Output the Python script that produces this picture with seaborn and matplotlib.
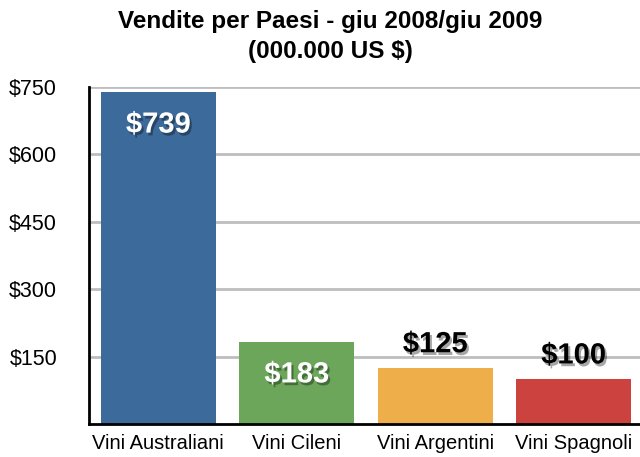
import matplotlib
matplotlib.use("Agg")
import matplotlib.pyplot as plt
import matplotlib.patheffects as pe
import seaborn as sns
import pandas as pd

categories = ["Vini Australiani", "Vini Cileni", "Vini Argentini", "Vini Spagnoli"]
values = [739, 183, 125, 100]
value_labels = ["$739", "$183", "$125", "$100"]
colors = ["#3C6A9B", "#6BA65B", "#EEAF4B", "#CB423F"]
yticks = [150, 300, 450, 600, 750]
ytick_labels = ["$150", "$300", "$450", "$600", "$750"]
title = "Vendite per Paesi - giu 2008/giu 2009\n(000.000 US $)"

sns.set_theme(style="white")
plt.rcParams["font.family"] = ["Liberation Sans", "DejaVu Sans"]
plt.rcParams["text.color"] = "black"
plt.rcParams["xtick.color"] = "black"
plt.rcParams["ytick.color"] = "black"
plt.rcParams["axes.labelcolor"] = "black"

df = pd.DataFrame({"cat": categories, "val": values})

fig = plt.figure(figsize=(6.4, 4.57), dpi=100)
ax = fig.add_axes([89/640, 33/457, 1 - 89/640, (424-87)/457])

ax.set_axisbelow(True)
for t in yticks:
    ax.axhline(t, color="#BDBDBD", lw=2, zorder=0)

sns.barplot(data=df, x="cat", y="val", hue="cat", palette=colors, legend=False,
            width=0.83, saturation=1, linewidth=0, ax=ax, zorder=2)

ax.set_xlim(-0.5, 3.48)
ax.set_ylim(0, 750)
ax.set_yticks(yticks)
ax.set_yticklabels(ytick_labels, fontsize=15.5, color="black")
ax.tick_params(axis="y", direction="in", length=5, width=2, pad=23, color="black", labelcolor="black")
ax.tick_params(axis="x", length=0, pad=7, labelsize=14.5, labelcolor="black")
ax.set_xlabel("")
ax.set_ylabel("")
for s in ["top", "right"]:
    ax.spines[s].set_visible(False)
for s in ["left", "bottom"]:
    ax.spines[s].set_color("black")
    ax.spines[s].set_linewidth(2)

shadow = [pe.SimplePatchShadow(offset=(1.5, -2), shadow_rgbFace="black", alpha=0.35), pe.Normal()]
for i, (v, lab) in enumerate(zip(values, value_labels)):
    if v > 150:
        ax.annotate(lab, (i, v), xytext=(0, -23.5), textcoords="offset points",
                    ha="center", va="center", fontsize=21, fontweight="bold",
                    color="white", path_effects=shadow, zorder=5)
    else:
        ax.annotate(lab, (i, v), xytext=(0, 17), textcoords="offset points",
                    ha="center", va="center", fontsize=21, fontweight="bold",
                    color="black", path_effects=shadow, zorder=5)

fig.text(0.516, 1 - 36.5/457, title, ha="center", va="center", fontsize=17.5,
         fontweight="bold", linespacing=1.35, color="black")

fig.savefig("out.png", dpi=100)
